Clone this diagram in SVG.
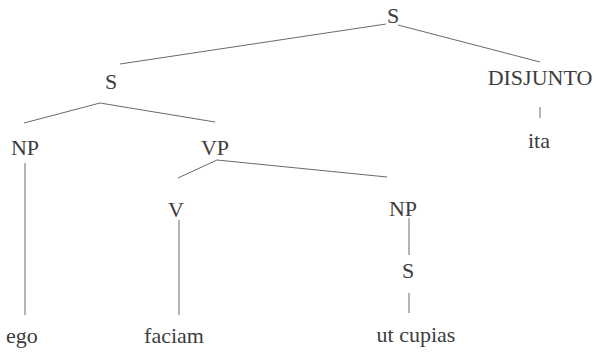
<svg xmlns="http://www.w3.org/2000/svg" width="594" height="354" viewBox="0 0 594 354">
<style>
text{font-family:"Liberation Serif","Times New Roman",serif;font-size:22px;fill:#3c3c3c;text-anchor:middle}
.e line{stroke:#6a6a6a;stroke-width:1;fill:none}
</style>
<rect width="594" height="354" fill="#fff"/>
<g class="e" id="connectors">
<line x1="386" y1="24" x2="120" y2="64"/>
<line x1="398" y1="25" x2="540" y2="62"/>
<line x1="100" y1="103" x2="24" y2="123"/>
<line x1="100" y1="103" x2="215" y2="122"/>
<line x1="217" y1="160" x2="178" y2="178"/>
<line x1="217" y1="160" x2="387" y2="177"/>
<line x1="540" y1="107" x2="540" y2="118"/>
<line x1="25" y1="163" x2="25" y2="315"/>
<line x1="179" y1="220" x2="179" y2="315"/>
<line x1="409" y1="218" x2="409" y2="255"/>
<line x1="409" y1="293" x2="409" y2="313"/>
</g>
<g id="s-top"><text x="393" y="23">S</text></g>
<g id="s-left"><text x="111" y="89">S</text></g>
<g id="disjunto"><text x="540" y="85">DISJUNTO</text></g>
<g id="ita"><text x="539" y="148">ita</text></g>
<g id="np-left"><text x="25" y="155">NP</text></g>
<g id="vp"><text x="215" y="155">VP</text></g>
<g id="v"><text x="176" y="217">V</text></g>
<g id="np-right"><text x="403" y="216">NP</text></g>
<g id="s-low"><text x="408" y="278">S</text></g>
<g id="ego"><text x="22" y="343">ego</text></g>
<g id="faciam"><text x="174" y="343">faciam</text></g>
<g id="ut-cupias"><text x="416" y="342">ut cupias</text></g>
</svg>
